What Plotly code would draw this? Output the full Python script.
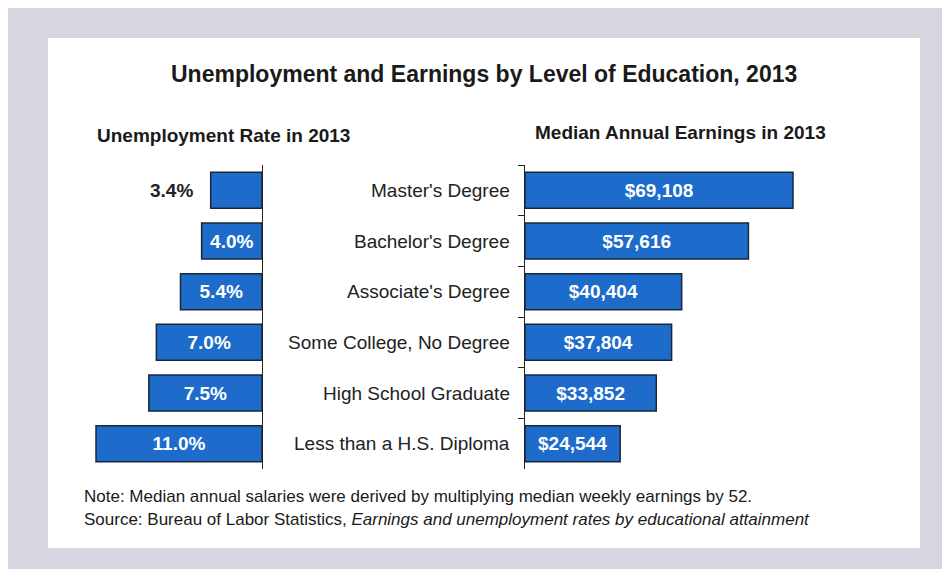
import plotly.graph_objects as go

W, H = 950, 569
OFF = 8  # page body margin in the browser

categories = ["Master's Degree", "Bachelor's Degree", "Associate's Degree",
              "Some College, No Degree", "High School Graduate", "Less than a H.S. Diploma"]
unemployment = [3.4, 4.0, 5.4, 7.0, 7.5, 11.0]
earnings = [69108, 57616, 40404, 37804, 33852, 24544]
unemp_labels = ["3.4%", "4.0%", "5.4%", "7.0%", "7.5%", "11.0%"]
earn_labels = ["$69,108", "$57,616", "$40,404", "$37,804", "$33,852", "$24,544"]

title = "Unemployment and Earnings by Level of Education, 2013"
left_title = "Unemployment Rate in 2013"
right_title = "Median Annual Earnings in 2013"
note = "Note: Median annual salaries were derived by multiplying median weekly earnings by 52."
source_plain = "Source: Bureau of Labor Statistics, "
source_italic = "Earnings and unemployment rates by educational attainment"

FONT = "Liberation Sans, Arial, sans-serif"
BAR = "#1d6ccb"
EDGE = "#1c2638"
BG = "#d6d6e1"


def px(x):
    return (x - OFF) / W


def py(y):
    return 1 - (y - OFF) / H


# short bars get their label outside
inside = [v >= 4.0 for v in unemployment]

fig = go.Figure()

fig.add_trace(go.Bar(
    y=categories, x=unemployment, orientation="h",
    xaxis="x", yaxis="y", width=0.71,
    marker=dict(color=BAR, line=dict(color=EDGE, width=1.5)),
    text=[t if ins else "" for t, ins in zip(unemp_labels, inside)],
    textposition="inside", insidetextanchor="middle",
    insidetextfont=dict(family=FONT, size=19, color="white", weight="bold"),
    hoverinfo="skip", showlegend=False,
))

fig.add_trace(go.Bar(
    y=categories, x=earnings, orientation="h",
    xaxis="x2", yaxis="y2", width=0.71,
    marker=dict(color=BAR, line=dict(color=EDGE, width=1.5)),
    text=earn_labels,
    textposition="inside", insidetextanchor="middle",
    insidetextfont=dict(family=FONT, size=19, color="white", weight="bold"),
    hoverinfo="skip", showlegend=False,
))

ydom = [py(469), py(165)]

fig.update_layout(
    width=W, height=H,
    margin=dict(l=0, r=0, t=0, b=0),
    paper_bgcolor=BG, plot_bgcolor="rgba(0,0,0,0)",
    font=dict(family=FONT, color="#1a1a1a"),
    xaxis=dict(domain=[px(80), px(262)], range=[12.06, 0], visible=False, fixedrange=True),
    yaxis=dict(domain=ydom, anchor="x", side="right", autorange="reversed",
               showline=True, linecolor="#222", linewidth=1.2,
               ticks="", showticklabels=False, showgrid=False, fixedrange=True),
    xaxis2=dict(domain=[px(525), px(830)], range=[0, 78650], visible=False,
                anchor="y2", fixedrange=True),
    yaxis2=dict(domain=ydom, anchor="x2", side="left", autorange="reversed",
                showline=True, linecolor="#222", linewidth=1.2,
                ticks="outside", tickson="boundaries", ticklen=6, tickcolor="#222",
                tickwidth=1.2, showticklabels=False, showgrid=False, fixedrange=True),
    bargap=0.29,
    shapes=[dict(type="rect", xref="paper", yref="paper",
                 x0=px(48), x1=px(920), y0=py(548), y1=py(38),
                 fillcolor="white", line=dict(width=0), layer="below")],
)

annotations = [
    dict(text=f"<b>{title}</b>", x=px(484), y=py(74), font=dict(size=23)),
    dict(text=f"<b>{left_title}</b>", x=px(95), y=py(135), xanchor="left", font=dict(size=19)),
    dict(text=f"<b>{right_title}</b>", x=px(533), y=py(133), xanchor="left", font=dict(size=19)),
    dict(text=note, x=px(82), y=py(496), xanchor="left", font=dict(size=17)),
    dict(text=source_plain + f"<i>{source_italic}</i>", x=px(82), y=py(519), xanchor="left",
         font=dict(size=17)),
]
for cat in categories:
    annotations.append(dict(text=cat, xref="paper", yref="y2", x=px(512), y=cat,
                            xanchor="right", font=dict(size=19, color="#222")))
for cat, v, t, ins in zip(categories, unemployment, unemp_labels, inside):
    if not ins:
        annotations.append(dict(text=f"<b>{t}</b>", xref="x", yref="y", x=v, y=cat,
                                xanchor="right", xshift=-16, font=dict(size=19, color="#222")))
for a in annotations:
    a.setdefault("xref", "paper")
    a.setdefault("yref", "paper")
    a.setdefault("xanchor", "center")
    a.setdefault("yanchor", "middle")
    a["showarrow"] = False
fig.update_layout(annotations=annotations)

fig.write_html("out.html")
